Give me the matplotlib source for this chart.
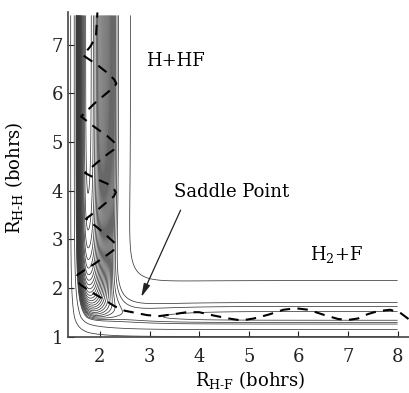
import numpy as np
import matplotlib
matplotlib.use("Agg")
import matplotlib.pyplot as plt

plt.rcParams['font.family'] = ['DejaVu Serif']
plt.rcParams['mathtext.fontset'] = 'dejavuserif'

# model surface: Morse pieces (D, r_e, beta inner, beta outer, Sato) in reduced units
hf_params = [1.0, 1.76, 2.0, 1.58, 0.10]
hh_params = [0.668, 1.40, 1.75, 1.13, 0.0]

# contour levels of the surface
levels = [-0.99, -0.975, -0.96, -0.945, -0.93, -0.915, -0.90, -0.885, -0.87,
          -0.855, -0.84, -0.825, -0.81, -0.795, -0.78, -0.765, -0.75, -0.735,
          -0.72, -0.705, -0.69, -0.676, -0.658, -0.636, -0.613, -0.45, 0.02]

# trajectory (R_H-F, R_H-H)
traj_x = [8.22, 8.05, 7.85, 7.6, 7.4, 7.2, 7.0, 6.8, 6.5, 6.2, 5.95, 5.7, 5.4,
          5.1, 4.85, 4.6, 4.3, 4.0, 3.75, 3.5, 3.2, 2.95, 2.75, 2.5, 2.3, 2.05,
          1.8, 1.6, 1.52, 1.55,
          1.9, 2.15, 2.27, 2.32, 2.28, 2.15, 1.95, 1.72,
          1.95, 2.17, 2.28, 2.32, 2.28, 2.15, 1.95, 1.7,
          1.95, 2.17, 2.28, 2.32, 2.28, 2.15, 1.9, 1.62,
          1.9, 2.17, 2.29, 2.33, 2.29, 2.15, 1.95, 1.66,
          1.8, 1.92, 1.95]
traj_y = [1.36, 1.49, 1.55, 1.52, 1.46, 1.37, 1.34, 1.36, 1.45, 1.55, 1.58,
          1.55, 1.45, 1.37, 1.33, 1.37, 1.43, 1.50, 1.50, 1.46, 1.42, 1.44,
          1.48, 1.53, 1.62, 1.78, 1.93, 2.07, 2.18, 2.27,
          2.5, 2.68, 2.77, 2.85, 2.94, 3.06, 3.24, 3.42,
          3.6, 3.79, 3.88, 3.96, 4.04, 4.14, 4.23, 4.36,
          4.58, 4.76, 4.84, 4.92, 5.0, 5.12, 5.3, 5.52,
          5.8, 6.03, 6.13, 6.2, 6.28, 6.42, 6.58, 6.78,
          6.95, 7.15, 7.66]

x_ticks = [2, 3, 4, 5, 6, 7, 8]
y_ticks = [1, 2, 3, 4, 5, 6, 7]


def leps_terms(r, p):
    d, re, bi, bo, s = p
    e = np.exp(-np.where(r < re, bi, bo) * (r - re))
    q = d / 4 * ((3 + s) * e ** 2 - (2 + 6 * s) * e)
    j = d / 4 * ((1 + 3 * s) * e ** 2 - (6 + 2 * s) * e)
    return q / (1 + s), j / (1 + s)


def leps(r1, r2):
    q1, j1 = leps_terms(r1, hf_params)
    q2, j2 = leps_terms(r2, hh_params)
    q3, j3 = leps_terms(r1 + r2, hf_params)
    root = np.sqrt(0.5 * ((j1 - j2) ** 2 + (j2 - j3) ** 2 + (j3 - j1) ** 2))
    return q1 + q2 + q3 - root


fig = plt.figure(figsize=(4.09, 3.93), dpi=100)
ax = fig.add_axes([0.166, 0.1425, 0.834, 0.827])

gx, gy = np.meshgrid(np.linspace(1.36, 8.0, 600), np.linspace(0.99, 7.6, 600))
ax.contour(gx, gy, leps(gx, gy), levels=levels, colors='#3a3a3a',
           linewidths=0.55, linestyles='solid')

ax.plot(traj_x, traj_y, color='black', lw=1.5, ls=(0, (5, 3.5)), zorder=5)

ax.text(2.93, 6.67, 'H+HF', fontsize=13, va='center', ha='left')
ax.text(6.23, 2.68, 'H$_2$+F', fontsize=13, va='center', ha='left')
ax.text(4.66, 3.96, 'Saddle Point', fontsize=13, va='center', ha='center')
ax.annotate('', xy=(2.81, 1.76), xytext=(3.65, 3.65),
            arrowprops=dict(arrowstyle='-|>,head_length=0.8,head_width=0.2',
                            color='#222', lw=0.9))

ax.set_xlim(1.355, 8.23)
ax.set_ylim(0.99, 7.67)
ax.set_xticks(x_ticks)
ax.set_yticks(y_ticks)
ax.tick_params(direction='in', length=4, labelsize=13, colors='#222')
ax.tick_params(axis='x', pad=8)
for side in ['top', 'right']:
    ax.spines[side].set_visible(False)
for side in ['left', 'bottom']:
    ax.spines[side].set_color('#444')
    ax.spines[side].set_linewidth(1.2)

ax.set_xlabel('R$_{\\rm H\u2010F}$ (bohrs)', fontsize=13)
ax.set_ylabel('R$_{\\rm H\u2010H}$ (bohrs)', fontsize=13)
ax.xaxis.set_label_coords(0.534, -0.1)
ax.yaxis.set_label_coords(-0.125, 0.49)

fig.savefig('out.png', dpi=100)
